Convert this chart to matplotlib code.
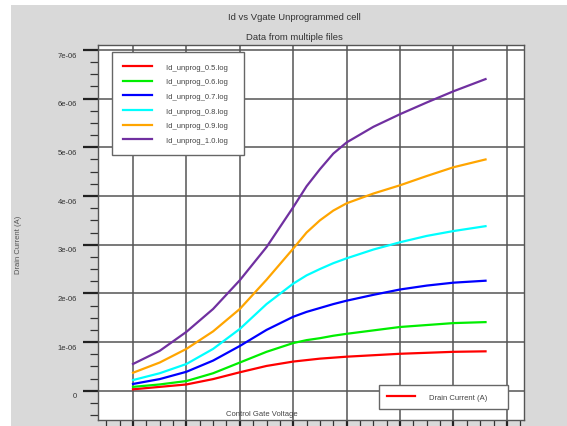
import matplotlib
matplotlib.use('Agg')
import matplotlib.pyplot as plt
import matplotlib.transforms as mtransforms
from matplotlib.lines import Line2D
from matplotlib.patches import Rectangle
from matplotlib.ticker import MultipleLocator, FuncFormatter

plt.rcParams['font.family'] = ['Liberation Sans', 'DejaVu Sans']

# gate voltage points (arbitrary units, axis labels are not shown)
vgate = [0, 0.5, 1, 1.5, 2, 2.5, 3, 3.25, 3.5, 3.75, 4, 4.5, 5, 5.5, 6, 6.6]

# drain current in units of 1e-6 A
id_05 = [0.03, 0.08, 0.13, 0.24, 0.38, 0.51, 0.60, 0.63, 0.66, 0.68, 0.70, 0.73, 0.76, 0.78, 0.80, 0.81]
id_06 = [0.08, 0.13, 0.20, 0.36, 0.58, 0.80, 0.98, 1.04, 1.08, 1.13, 1.17, 1.24, 1.31, 1.35, 1.39, 1.41]
id_07 = [0.14, 0.24, 0.39, 0.62, 0.92, 1.25, 1.52, 1.62, 1.70, 1.78, 1.85, 1.97, 2.08, 2.16, 2.22, 2.26]
id_08 = [0.22, 0.36, 0.55, 0.86, 1.27, 1.78, 2.20, 2.37, 2.50, 2.62, 2.72, 2.90, 3.05, 3.18, 3.28, 3.38]
id_09 = [0.37, 0.58, 0.86, 1.22, 1.68, 2.28, 2.92, 3.25, 3.50, 3.70, 3.85, 4.05, 4.22, 4.41, 4.59, 4.75]
id_10 = [0.55, 0.82, 1.21, 1.68, 2.27, 2.95, 3.77, 4.20, 4.55, 4.87, 5.10, 5.42, 5.68, 5.92, 6.15, 6.40]

labels = ['Id_unprog_0.5.log', 'Id_unprog_0.6.log', 'Id_unprog_0.7.log',
          'Id_unprog_0.8.log', 'Id_unprog_0.9.log', 'Id_unprog_1.0.log']
colors = ['#ff0000', '#00ee00', '#0000ff', '#00ffff', '#ffa500', '#7030a0']

W, H = 567, 427
fig = plt.figure(figsize=(W / 100, H / 100), dpi=100)
fig.patches.append(Rectangle((11 / W, 0), 1, 1 - 6 / H, transform=fig.transFigure,
                             facecolor='#d9d9d9', edgecolor='none', zorder=-10))

ax = fig.add_axes([98 / W, 6 / H, (524 - 98) / W, (421 - 46) / H])
ax.set_facecolor('white')

series = [id_05, id_06, id_07, id_08, id_09, id_10]
for ys, lab, c in zip(series, labels, colors):
    ax.plot(vgate, [v * 1e-6 for v in ys], color=c, lw=1.6, label=lab, zorder=3)

ax.set_xlim(-0.655, 7.32)
ax.set_ylim(-0.6e-6, 7.1e-6)

ax.xaxis.set_major_locator(MultipleLocator(1))
ax.xaxis.set_minor_locator(MultipleLocator(0.25))
ax.yaxis.set_major_locator(MultipleLocator(1e-6))
ax.yaxis.set_minor_locator(MultipleLocator(0.25e-6))
ax.yaxis.set_major_formatter(FuncFormatter(lambda v, p: '0' if abs(v) < 1e-12 else '%.0e' % v))
ax.set_xticklabels([])

ax.tick_params(axis='both', which='major', direction='out', length=11, width=1.6,
               color='#222222', labelsize=5.5, labelcolor='#333333', pad=4)
ax.tick_params(axis='both', which='minor', direction='out', length=6, width=0.9,
               color='#333333')
ax.tick_params(axis='x', which='major', labelbottom=False)

# labels sit a little lower than their ticks in the original
shift = mtransforms.ScaledTranslation(0, -3 / 72, fig.dpi_scale_trans)
for lbl in ax.get_yticklabels():
    lbl.set_transform(lbl.get_transform() + shift)

ax.grid(True, which='major', color='#555555', lw=1.1, zorder=1)
ax.set_axisbelow(True)
for s in ax.spines.values():
    s.set_color('#555555')
    s.set_linewidth(1.0)

fig.text(294 / W, 1 - 18 / H, 'Id vs Vgate Unprogrammed cell', ha='center', va='center',
         fontsize=6.8, color='#333333')
fig.text(294 / W, 1 - 37 / H, 'Data from multiple files', ha='center', va='center',
         fontsize=6.8, color='#333333')
fig.text(19 / W, 1 - 245 / H, 'Drain Current (A)', rotation=90, ha='center', va='center',
         fontsize=5.5, color='#555555')
fig.text(262 / W, 1 - 415 / H, 'Control Gate Voltage', ha='center', va='center',
         fontsize=5.5, color='#444444')

leg = ax.legend([l for l in ax.get_lines()], [l + '  ' for l in labels],
                loc='upper left', bbox_to_anchor=(112 / W, 1 - 53 / H),
                bbox_transform=fig.transFigure, fontsize=5.5, handlelength=3.7,
                handletextpad=1.9, labelspacing=0.95, borderpad=1.5,
                borderaxespad=0, fancybox=False, framealpha=1,
                edgecolor='#666666')
leg.get_frame().set_linewidth(1.0)
for t in leg.get_texts():
    t.set_color('#444444')
ax.add_artist(leg)

proxy = Line2D([], [], color='#ff0000', lw=1.6)
leg2 = ax.legend([proxy], ['Drain Current (A)      '], loc='upper left',
                 bbox_to_anchor=(379 / W, 1 - 386 / H), bbox_transform=fig.transFigure,
                 fontsize=5.5, handlelength=3.6, handletextpad=1.8, borderpad=1.1,
                 borderaxespad=0, fancybox=False, framealpha=1, edgecolor='#666666')
leg2.get_frame().set_linewidth(1.0)
for t in leg2.get_texts():
    t.set_color('#444444')

fig.savefig('out.png', dpi=100)
